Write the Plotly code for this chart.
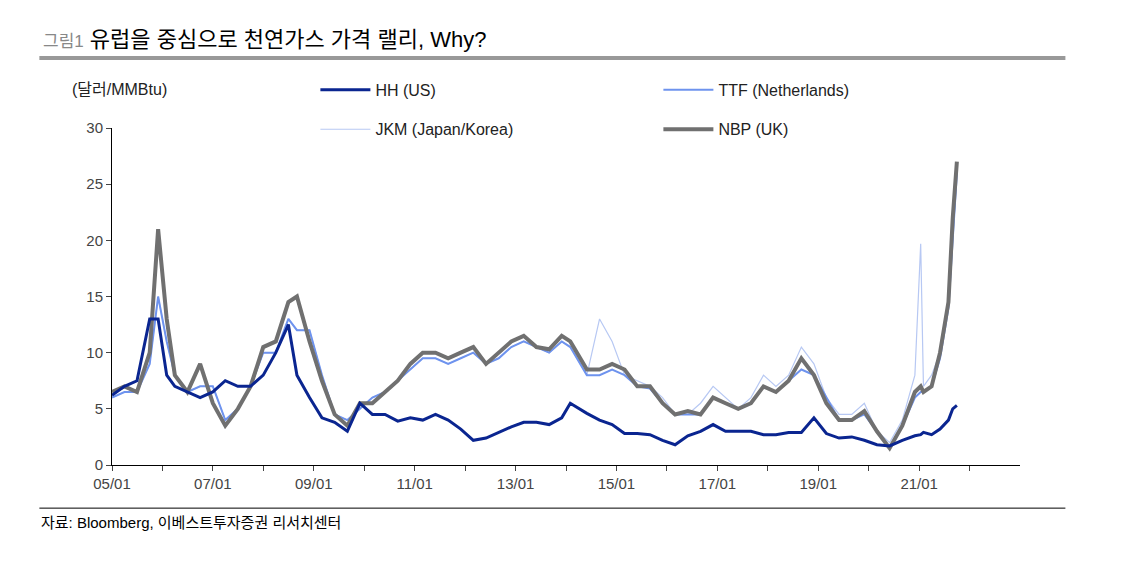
import plotly.graph_objects as go

dates = ["2005-01-01", "2005-04-01", "2005-07-01", "2005-10-01", "2005-12-01", "2006-02-01",
         "2006-04-01", "2006-07-01", "2006-10-01", "2007-01-01", "2007-04-01", "2007-07-01",
         "2007-10-01", "2008-01-01", "2008-04-01", "2008-07-01", "2008-09-01", "2008-12-01",
         "2009-03-01", "2009-06-01", "2009-09-01", "2009-12-01", "2010-03-01", "2010-06-01",
         "2010-09-01", "2010-12-01", "2011-03-01", "2011-06-01", "2011-09-01", "2011-12-01",
         "2012-03-01", "2012-06-01", "2012-09-01", "2012-12-01", "2013-03-01", "2013-06-01",
         "2013-09-01", "2013-12-01", "2014-02-01", "2014-06-01", "2014-09-01", "2014-12-01",
         "2015-03-01", "2015-06-01", "2015-09-01", "2015-12-01", "2016-03-01", "2016-06-01",
         "2016-09-01", "2016-12-01", "2017-03-01", "2017-06-01", "2017-09-01", "2017-12-01",
         "2018-03-01", "2018-06-01", "2018-09-01", "2018-12-01", "2019-03-01", "2019-06-01",
         "2019-09-01", "2019-12-01", "2020-03-01", "2020-06-01", "2020-09-01", "2020-12-01",
         "2021-01-12", "2021-02-01", "2021-04-01", "2021-06-01", "2021-08-01", "2021-09-01",
         "2021-10-01"]

hh = [6.2, 7, 7.5, 13, 13, 8, 7, 6.5, 6, 6.5, 7.5, 7, 7, 8, 10, 12.5, 8, 6, 4.2, 3.8, 3, 5.5,
      4.5, 4.5, 3.9, 4.2, 4, 4.5, 4, 3.2, 2.2, 2.4, 2.9, 3.4, 3.8, 3.8, 3.6, 4.2, 5.5, 4.6, 4,
      3.6, 2.8, 2.8, 2.7, 2.2, 1.8, 2.6, 3, 3.6, 3, 3, 3, 2.7, 2.7, 2.9, 2.9, 4.2, 2.8, 2.4, 2.5,
      2.2, 1.8, 1.7, 2.2, 2.6, 2.7, 2.9, 2.7, 3.2, 4, 5, 5.3]
ttf = [6, 6.5, 6.5, 9, 15, 11, 8, 6.5, 7, 7, 4, 5, 7, 10, 10, 13, 12, 12, 8, 4.5, 4, 5, 6, 6.5,
       7.5, 8.5, 9.5, 9.5, 9, 9.5, 10, 9, 9.5, 10.5, 11, 10.5, 10, 11, 10.5, 8, 8, 8.5, 8, 7,
       6.8, 5.5, 4.5, 4.5, 4.5, 6, 5.5, 5, 5.5, 7, 6.5, 7.5, 8.5, 8, 6, 4, 4, 4.5, 3, 1.5, 3.5,
       6, 6.5, 6.5, 7, 9.5, 14, 20, 26]
jkm = [6, 6.5, 6.5, 9, 15, 11, 8, 6.5, 7, 7, 4, 5, 7, 10, 10, 13, 12, 12, 8, 4.5, 4, 5, 6, 6.5,
       7.5, 8.5, 9.5, 9.5, 9, 9.5, 10, 9, 9.5, 10.5, 11, 10.5, 10, 11, 10.5, 8, 13, 11, 8, 7.5,
       7, 6, 4.5, 4.5, 5.5, 7, 6, 5, 6, 8, 7, 8, 10.5, 9, 6, 4.5, 4.5, 5.5, 3, 2, 4, 8, 19.7,
       7, 8, 10, 14, 20, 26]
nbp = [6.5, 7, 6.5, 10, 21, 13, 8, 6.5, 9, 5.5, 3.5, 5, 7, 10.5, 11, 14.5, 15, 11, 7.5, 4.5,
       3.5, 5.5, 5.5, 6.5, 7.5, 9, 10, 10, 9.5, 10, 10.5, 9, 10, 11, 11.5, 10.5, 10.3, 11.5, 11,
       8.5, 8.5, 9, 8.5, 7, 7, 5.5, 4.5, 4.8, 4.5, 6, 5.5, 5, 5.5, 7, 6.5, 7.5, 9.5, 8, 5.5, 4,
       4, 4.8, 3, 1.5, 3.5, 6.5, 7, 6.5, 7, 10, 14.5, 22, 27]

tick_vals = ["%d-01-01" % y for y in range(2005, 2023)]
tick_text = ["%02d/01" % (y % 100) if y % 2 == 1 else "" for y in range(2005, 2023)]

fig = go.Figure()
fig.add_trace(go.Scatter(x=dates, y=jkm, name="JKM (Japan/Korea)", mode="lines",
                         line=dict(color="#b7c8f3", width=1.2), legend="legend2", legendrank=1))
fig.add_trace(go.Scatter(x=dates, y=ttf, name="TTF (Netherlands)", mode="lines",
                         line=dict(color="#6e93ee", width=2), legendrank=2))
fig.add_trace(go.Scatter(x=dates, y=nbp, name="NBP (UK)", mode="lines",
                         line=dict(color="#707070", width=4), legend="legend2", legendrank=2))
fig.add_trace(go.Scatter(x=dates, y=hh, name="HH (US)", mode="lines",
                         line=dict(color="#0a2590", width=3), legendrank=1))

font = "Liberation Sans Narrow, Liberation Sans, Noto Sans CJK KR, sans-serif"
leg = dict(orientation="h", xanchor="left", yanchor="middle", entrywidth=278,
           font=dict(size=16), itemwidth=50, bgcolor="rgba(0,0,0,0)")
fig.update_layout(
    width=1140, height=564,
    margin=dict(l=104, r=128, t=120, b=107, autoexpand=False),
    plot_bgcolor="white", paper_bgcolor="white",
    font=dict(family=font, size=15, color="#222"),
    showlegend=True,
    legend=dict(leg, x=0.224, y=1.113),
    legend2=dict(leg, x=0.224, y=0.996),
    xaxis=dict(range=["2005-01-01", "2023-01-01"], tickvals=tick_vals, ticktext=tick_text,
               showgrid=False, showline=True, linecolor="black", ticks="outside",
               ticklen=5, tickfont=dict(size=15, color="#444")),
    yaxis=dict(range=[0, 30], dtick=5, showgrid=False, showline=True, linecolor="black",
               ticks="outside", ticklen=5, zeroline=False, tickfont=dict(size=15, color="#444")),
    shapes=[
        dict(type="line", xref="paper", yref="paper", x0=-0.08, x1=1.05, y0=1.208, y1=1.208,
             line=dict(color="#999", width=4)),
        dict(type="line", xref="paper", yref="paper", x0=-0.08, x1=1.05, y0=-0.128, y1=-0.128,
             line=dict(color="black", width=1)),
    ],
    annotations=[
        dict(text="<span style='color:#888;font-size:17px'>그림1</span> 유럽을 중심으로 천연가스 가격 랠리, Why?",
             xref="paper", yref="paper", x=-0.078, y=1.262, xanchor="left", yanchor="middle",
             showarrow=False, font=dict(size=22, color="black")),
        dict(text="(달러/MMBtu)", xref="paper", yref="paper", x=-0.046, y=1.113,
             xanchor="left", yanchor="middle", showarrow=False, font=dict(size=16)),
        dict(text="자료: Bloomberg, 이베스트투자증권 리서치센터", xref="paper", yref="paper",
             x=-0.08, y=-0.17, xanchor="left", yanchor="middle", showarrow=False,
             font=dict(size=15, color="black")),
    ],
)
fig.write_html("out.html")
